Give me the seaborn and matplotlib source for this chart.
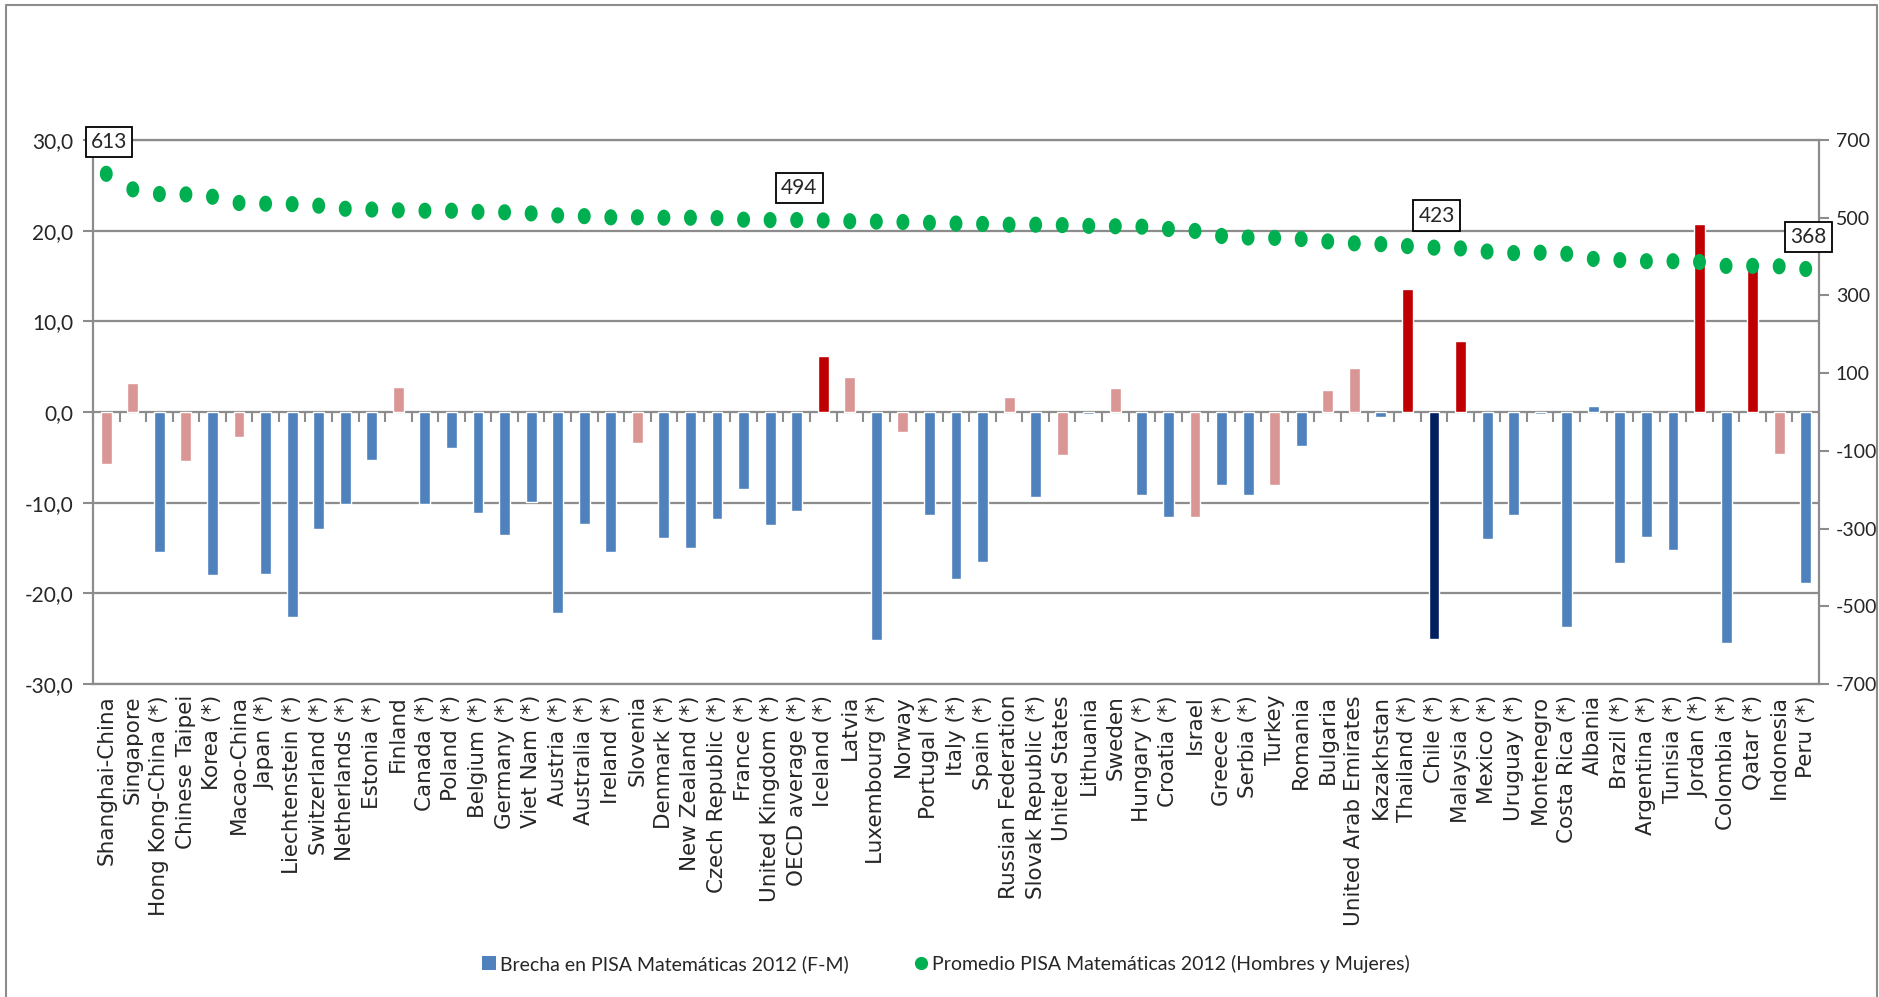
import numpy as np
import pandas as pd
import matplotlib
matplotlib.use("Agg")
import matplotlib.pyplot as plt
from matplotlib.path import Path
from matplotlib.patches import Patch
from matplotlib.lines import Line2D
from matplotlib.ticker import FuncFormatter, FixedLocator
import seaborn as sns

# ---------------- data ----------------
countries = [
    "Shanghai-China", "Singapore", "Hong Kong-China (*)", "Chinese Taipei", "Korea (*)",
    "Macao-China", "Japan (*)", "Liechtenstein (*)", "Switzerland (*)", "Netherlands (*)",
    "Estonia (*)", "Finland", "Canada (*)", "Poland (*)", "Belgium (*)", "Germany (*)",
    "Viet Nam (*)", "Austria (*)", "Australia (*)", "Ireland (*)", "Slovenia", "Denmark (*)",
    "New Zealand (*)", "Czech Republic (*)", "France (*)", "United Kingdom (*)",
    "OECD average (*)", "Iceland (*)", "Latvia", "Luxembourg (*)", "Norway", "Portugal (*)",
    "Italy (*)", "Spain (*)", "Russian Federation", "Slovak Republic (*)", "United States",
    "Lithuania", "Sweden", "Hungary (*)", "Croatia (*)", "Israel", "Greece (*)", "Serbia (*)",
    "Turkey", "Romania", "Bulgaria", "United Arab Emirates", "Kazakhstan", "Thailand (*)",
    "Chile (*)", "Malaysia (*)", "Mexico (*)", "Uruguay (*)", "Montenegro", "Costa Rica (*)",
    "Albania", "Brazil (*)", "Argentina (*)", "Tunisia (*)", "Jordan (*)", "Colombia (*)",
    "Qatar (*)", "Indonesia", "Peru (*)",
]

# Brecha F-M (left axis)
gap = [
    -5.7, 3.2, -15.4, -5.4, -18.0,
    -2.8, -17.9, -22.6, -12.9, -10.2,
    -5.3, 2.8, -10.1, -4.0, -11.1, -13.6,
    -9.9, -22.2, -12.3, -15.4, -3.4, -13.9,
    -15.0, -11.8, -8.5, -12.5,
    -10.9, 6.2, 3.9, -25.1, -2.2, -11.4,
    -18.4, -16.5, 1.6, -9.4, -4.7,
    -0.2, 2.7, -9.1, -11.6, -11.6, -8.1, -9.2,
    -8.0, -3.8, 2.4, 4.9, -0.5, 13.6,
    -25.0, 7.8, -14.0, -11.4, -0.2, -23.7,
    0.7, -16.7, -13.8, -15.2, 20.7, -25.5,
    16.1, -4.6, -18.9,
]

# Promedio (right axis)
mean_score = [
    613, 573, 561, 560, 554,
    538, 536, 535, 531, 523,
    521, 519, 518, 518, 515, 514,
    511, 506, 504, 501, 501, 500,
    500, 499, 495, 494,
    494, 493, 491, 490, 489, 487,
    485, 484, 482, 482, 481,
    479, 478, 477, 471, 466, 453, 449,
    448, 445, 439, 434, 432, 427,
    423, 421, 413, 409, 410, 407,
    394, 391, 388, 388, 386, 376,
    376, 375, 368,
]

# bar group: B = negativa signif., P = no signif., R = positiva signif., N = Chile
group = [
    "P", "P", "B", "P", "B",
    "P", "B", "B", "B", "B",
    "B", "P", "B", "B", "B", "B",
    "B", "B", "B", "B", "P", "B",
    "B", "B", "B", "B",
    "B", "R", "P", "B", "P", "B",
    "B", "B", "P", "B", "P",
    "B", "P", "B", "B", "P", "B", "B",
    "P", "B", "P", "P", "B", "R",
    "N", "R", "B", "B", "B", "B",
    "B", "B", "B", "B", "R", "B",
    "R", "P", "B",
]

labelled = ["Shanghai-China", "OECD average (*)", "Chile (*)", "Peru (*)"]
left_ticks = [-30, -20, -10, 0, 10, 20, 30]
right_ticks = [-700, -500, -300, -100, 100, 300, 500, 700]
legend_labels = ["Brecha en PISA Matemáticas 2012 (F-M)",
                 "Promedio PISA Matemáticas 2012 (Hombres y Mujeres)"]

# ---------------- style ----------------
palette = {"B": "#4F81BD", "P": "#D99694", "R": "#C00000", "N": "#002060"}
GREEN = "#00B050"
GRAY = "#8C8C8C"

sns.set_theme(style="white")
HFONT = ["Lato", "DejaVu Sans"]
VFONT = ["DejaVu Sans"]
plt.rcParams["font.family"] = HFONT

W, H = 1879, 997
fig = plt.figure(figsize=(W / 100, H / 100), dpi=100)
ax = fig.add_axes([93 / W, 1 - 684 / H, (1819 - 93) / W, (684 - 140) / H])

df = pd.DataFrame({"country": countries, "gap": gap, "mean": mean_score, "group": group})

sns.barplot(data=df, x="country", y="gap", hue="group", palette=palette, dodge=False,
            legend=False, saturation=1, width=0.41, ax=ax, zorder=3)

ax.set_ylim(-30, 30)
ax.set_xlim(-0.5, len(countries) - 0.5)
ax.yaxis.set_major_locator(FixedLocator(left_ticks))
ax.yaxis.set_major_formatter(FuncFormatter(lambda v, p: f"{v:.1f}".replace(".", ",")))
ax.set_axisbelow(True)
ax.grid(axis="y", color=GRAY, lw=1.6, zorder=0)
ax.grid(axis="x", visible=False)
ax.set_xlabel("")
ax.set_ylabel("")
for s in ["left", "bottom", "top"]:
    ax.spines[s].set_color(GRAY)
    ax.spines[s].set_linewidth(1.6)
ax.spines["right"].set_visible(False)
ax.tick_params(axis="y", direction="out", length=7, width=1.5, color=GRAY,
               labelsize=15, pad=7, left=True)
ax.tick_params(axis="x", length=0, pad=8)
for lab in ax.get_xticklabels():
    lab.set_rotation(90)
    lab.set_family(VFONT)
    lab.set_fontsize(15.5)
    lab.set_va("top")
    lab.set_ha("center")

# boundary ticks on the zero line
sec = ax.secondary_xaxis(0, transform=ax.transData)
sec.set_xticks(np.arange(-0.5, len(countries), 1.0))
sec.tick_params(axis="x", which="both", bottom=True, top=False, labelbottom=False,
                labeltop=False, direction="out", length=7, width=1.5, color=GRAY)
for s in sec.spines.values():
    s.set_visible(False)

# right axis: average scores
ax2 = ax.twinx()
ell = np.linspace(0, 2 * np.pi, 60)
ellipse = Path(np.column_stack([0.8 * np.cos(ell), np.sin(ell)]), closed=True)
sns.scatterplot(data=df, x="country", y="mean", ax=ax2, color=GREEN, marker=ellipse,
                s=135, edgecolor="none", linewidth=0, zorder=5, legend=False)
ax2.set_ylim(-700, 700)
ax2.set_xlim(-0.5, len(countries) - 0.5)
ax2.yaxis.set_major_locator(FixedLocator(right_ticks))
ax2.yaxis.set_major_formatter(FuncFormatter(lambda v, p: f"{int(v)}"))
ax2.set_ylabel("")
ax2.set_xlabel("")
ax2.grid(False)
for s in ["left", "bottom", "top"]:
    ax2.spines[s].set_visible(False)
ax2.spines["right"].set_color(GRAY)
ax2.spines["right"].set_linewidth(1.6)
ax2.tick_params(axis="y", direction="out", length=7, width=1.5, color=GRAY,
                labelsize=14, pad=5, right=True)

for name in labelled:
    i = countries.index(name)
    v = mean_score[i]
    ax2.annotate(f"{v}", xy=(i, v), xytext=(2, 23), textcoords="offset points",
                 ha="center", va="center", fontsize=15, zorder=6,
                 bbox=dict(boxstyle="square,pad=0.25", fc="white", ec="black", lw=1.3))

# legend
handles = [
    Patch(facecolor=palette["B"], edgecolor="none"),
    Line2D([], [], linestyle="none", marker="o", markersize=9.5,
           markerfacecolor=GREEN, markeredgecolor="none"),
]
fig.legend(handles, legend_labels, loc="center", bbox_to_anchor=(946 / W, 1 - 964 / H),
           ncol=2, frameon=False, fontsize=14, handlelength=0.7, handleheight=0.7,
           handletextpad=0.2, columnspacing=3.4, borderaxespad=0)

# outer border
fig.add_artist(plt.Line2D([6 / W, 6 / W, 1877 / W, 1877 / W], [0, 1 - 5 / H, 1 - 5 / H, 0],
                          transform=fig.transFigure, color=GRAY, lw=1.5))

fig.savefig("out.png", dpi=100)
